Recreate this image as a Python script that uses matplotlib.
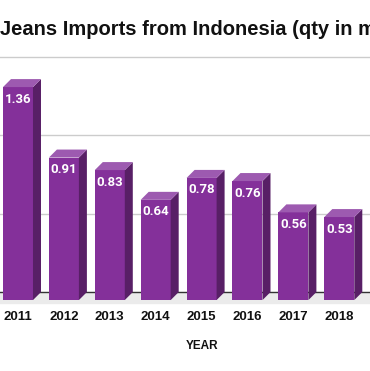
import matplotlib
matplotlib.use("Agg")
import matplotlib.pyplot as plt
from matplotlib.patches import Polygon, Rectangle

years = ["2011", "2012", "2013", "2014", "2015", "2016", "2017", "2018"]
qty = [1.36, 0.91, 0.83, 0.64, 0.78, 0.76, 0.56, 0.53]
grid_vals = [0.5, 1.0, 1.5]

front_col = "#84309a"
side_col = "#581f66"
top_col = "#9d5ab0"

fig = plt.figure(figsize=(3.70, 3.71), dpi=100)
ax = fig.add_axes([0, 0, 1, 1])
ax.set_xlim(-0.392, 7.669)
ax.set_ylim(-0.504, 1.865)
ax.axis("off")

# pixel -> data sizes
px_x = 1 / 45.9
px_y = 1 / 156.6
w = 30 * px_x
dx = 8 * px_x
dy = 8 * px_y

# floor and grid
ax.add_patch(Rectangle((-1, -11 * px_y), 10, 11 * px_y, color="#ebebeb", zorder=0))
for g in grid_vals:
    ax.axhline(g, color="#cccccc", lw=1, zorder=0)
ax.axhline(0, color="#333333", lw=1, zorder=1)

for i, v in enumerate(qty):
    x0, x1 = i - w / 2, i + w / 2
    b, t = -dy, v - dy
    ax.add_patch(Polygon([(x0, b), (x1, b), (x1, t), (x0, t)], closed=True,
                         facecolor=front_col, edgecolor="none", zorder=3))
    ax.add_patch(Polygon([(x1, b), (x1 + dx, b + dy), (x1 + dx, t + dy), (x1, t)],
                         closed=True, facecolor=side_col, edgecolor="none", zorder=3))
    ax.add_patch(Polygon([(x0, t), (x1, t), (x1 + dx, t + dy), (x0 + dx, t + dy)],
                         closed=True, facecolor=top_col, edgecolor="none", zorder=3))
    ax.text(i, t - 12 * px_y, f"{v:.2f}", color="white", ha="center", va="center",
            fontsize=9.5, fontweight="bold", family="Roboto", zorder=4)
    ax.text(i, -25 * px_y, years[i], color="#111111", ha="center", va="center",
            fontsize=9.5, fontweight="bold", family="Liberation Sans")

ax.text(4.0, -54 * px_y, "YEAR", color="#111111", ha="center", va="center",
        fontsize=8.5, fontweight="bold", family="Liberation Sans")

fig.text(0.0, 1 - 35 / 371, "Jeans Imports from Indonesia (qty in millions)",
         ha="left", va="baseline", fontsize=14.5, fontweight="bold",
         family="Liberation Sans", color="#111111")

fig.savefig("out.png", dpi=100)
